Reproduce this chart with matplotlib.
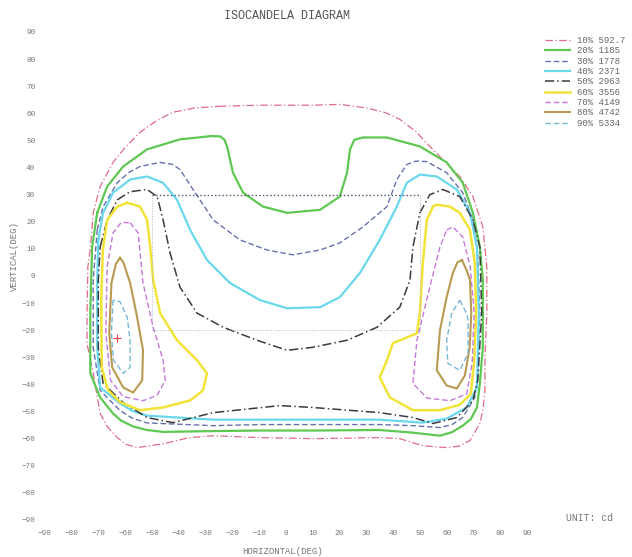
import matplotlib.pyplot as plt
from matplotlib.lines import Line2D

TITLE = "ISOCANDELA DIAGRAM"
MONO = "Liberation Mono"

# isocandela levels (percent of max) and candela values
LEVELS = [10, 20, 30, 40, 50, 60, 70, 80, 90]
CANDELA = ["592.7", "1185", "1778", "2371", "2963", "3556", "4149", "4742", "5334"]
TICKS = list(range(-90, 91, 10))

# contour outlines, (horizontal deg, vertical deg)
C10 = [(-25, 62.6), (-10, 63), (0, 63), (10, 63), (20, 63.3), (30, 62), (37, 60.3), (42.5, 57.8),
       (48.5, 53.3), (53.7, 47.8), (59.5, 42), (64.9, 36.7), (69.8, 29.3), (73.5, 18.1), (75, 3.3),
       (75, -13.7), (74.3, -30), (74.3, -42.2), (73.6, -49), (72.4, -54.4), (68.7, -60.7), (64.5, -62.8),
       (60, -63.3), (51, -62.6), (42.5, -60), (35, -59.6), (10, -60), (-10, -59.6), (-27, -58.9),
       (-36, -59.6), (-46, -61.9), (-55.6, -63.3), (-60, -62), (-63, -59.6), (-66.8, -55.5),
       (-69.4, -50.7), (-72, -36), (-74.3, -25), (-74.3, -13.7), (-74, 3.3), (-73, 10.7), (-72, 23.3),
       (-69.4, 33), (-64.6, 41.9), (-60, 47.5), (-54.5, 53), (-48.5, 57.2), (-42.2, 60.4),
       (-34, 62), (-25, 62.6)]
C20 = [(-70.5, 23.3), (-66.8, 33), (-60.8, 40.4), (-51.9, 46.7), (-39.6, 50.4), (-28, 51.6),
       (-24.6, 51.5), (-23, 50.3), (-22, 47.8), (-19.8, 38.1), (-16, 30.7), (-8.6, 25.6), (0.4, 23.3),
       (12.7, 24.4), (20.1, 29.3), (22.8, 38.1), (23.9, 46.7), (25.5, 50.2), (28.7, 51.1), (37.7, 51.1),
       (50, 47.8), (60, 41.9), (66, 34.4), (69.8, 23.3), (72.4, 10.7), (73.5, -1.5), (73.5, -26.3),
       (72.4, -39.6), (71.3, -48.5), (69, -52.8), (66, -55.2), (62, -57.6), (57.5, -58.9), (47.4, -57.8),
       (35, -56.8), (10, -57), (-9.7, -57), (-27.2, -57.2), (-45.9, -57.5), (-52, -56.8), (-57.1, -55.5),
       (-61.5, -53.4), (-64.6, -50.7), (-69.4, -44.8), (-73.1, -35.9), (-73.1, -13.7), (-72.4, 10.7),
       (-70.5, 23.3)]
C30 = [(-70.5, 17), (-68.3, 25.6), (-63, 34.4), (-58.5, 38.3), (-54.5, 40.4), (-47, 41.9),
       (-42.5, 41.2), (-39.6, 39.3), (-34.7, 31.9), (-27.2, 20.7), (-17.2, 13.3), (-7.1, 9.6), (2.6, 7.8),
       (12.7, 9.6), (20.1, 12.2), (28.7, 18.1), (37.7, 25.6), (41.4, 35.6), (45.1, 41.1), (48.5, 42.4),
       (52.6, 42.2), (60, 38.1), (66, 30.7), (69.8, 20.7), (71.6, 8.5), (72.4, -13.7), (71.6, -35.9),
       (70.5, -44.8), (66, -52.2), (62, -54.8), (57.5, -55.9), (47.4, -55.2), (35, -54.8), (10, -54.8),
       (-9.7, -54.8), (-27.2, -55.2), (-51.9, -54.2), (-57.5, -52.4), (-62, -49.6), (-69.4, -42.2),
       (-72, -26.3), (-72, -1.5), (-70.5, 17)]
C40 = [(-70.1, 13.3), (-68.3, 23.3), (-64.6, 30.7), (-58.2, 35.6), (-51.9, 36.7), (-45.9, 34.4),
       (-40.7, 28.1), (-35.8, 17), (-29.5, 5.9), (-20.9, -2.6), (-9.7, -8.9), (0.4, -11.9),
       (12.7, -11.5), (20.1, -7.8), (27.6, 1.1), (35, 13.3), (41.4, 25.6), (45.1, 34.4), (50, 37.4),
       (56.3, 36.7), (63.8, 31.9), (68.7, 23.3), (71.3, 10.7), (72, -13.7), (71.3, -41.1),
       (67.5, -48.5), (60, -52.6), (51.1, -54.1), (35, -53), (0, -53), (-27.2, -53), (-51.9, -51.5),
       (-57.5, -49.7), (-62, -47), (-69.4, -41.1), (-70.5, -26.3), (-70.5, -1.5), (-70.1, 13.3)]
C50 = [(-69.4, 10.7), (-66.8, 20.7), (-63, 28.1), (-58.2, 31.1), (-51.9, 31.9), (-48.1, 29.3),
       (-45.9, 20.7), (-43.3, 8.5), (-39.6, -4.1), (-33.2, -13.7), (-23.5, -18.9), (-10.8, -23.7),
       (0.4, -27.4), (10, -26.3), (22.8, -23.7), (34, -18.9), (42.5, -11.5), (46.3, -1.5),
       (47.4, 10.7), (50, 23.3), (53.7, 30), (58.6, 31.9), (64.9, 29.3), (69.8, 20.7), (72.4, 10.7),
       (73.1, -13.7), (71.6, -38.5), (69.8, -45.9), (63.8, -52.2), (54.9, -54.4), (47.4, -52.2),
       (35, -50.4), (10, -48.5), (-2.2, -47.8), (-27.2, -50.4), (-42.2, -54.1), (-51.9, -52.2),
       (-60.8, -46.7), (-68.3, -39.6), (-70.1, -26.3), (-70.1, -1.5), (-69.4, 10.7)]
C60_L = [(-59.3, 27), (-54.5, 25.6), (-51.9, 20.7), (-50.7, 10.7), (-49.6, -1.5), (-47, -13.7),
         (-40.7, -23.7), (-33.2, -31.1), (-29.5, -35.9), (-31, -42.2), (-35.8, -45.9), (-45.9, -48.5),
         (-54.5, -49.5), (-62, -46.5), (-66.5, -42), (-68.8, -33.7), (-69, -8.9), (-68.4, 9.6),
         (-66.8, 20.7), (-63, 25.6), (-59.3, 27)]
C60_R = [(54.9, 25.6), (56.3, 26.3), (61.2, 25.6), (64.9, 23.3), (68.7, 17), (70.5, 4.8), (71, -13.7),
         (70.2, -32.2), (69, -43.5), (64.9, -47.5), (57.5, -49.5), (47.4, -49.5), (38.8, -44.8),
         (35, -37.4), (37.7, -31.1), (39.9, -24.8), (48.9, -21.1), (50, -13.7), (51.1, 4.8),
         (52.6, 20.7), (54.9, 25.6)]
C70_L = [(-58.2, 19.6), (-55.2, 15.9), (-53.4, -2.6), (-49.6, -18.9), (-45.9, -31.1), (-45.1, -38.5),
         (-48.1, -44), (-53.4, -46), (-60.8, -44.5), (-65.5, -38.5), (-67.3, -21.1), (-66.8, 3.3),
         (-64.6, 15.9), (-61.5, 19.8), (-58.2, 19.6)]
C70_R = [(60, 17), (62.3, 18.1), (66, 14.4), (68.8, 3.3), (70.3, -13.7), (69.5, -32.2), (67.5, -43.5),
         (61.2, -46), (52.6, -45), (47.4, -39.6), (48.9, -23.7), (53.7, -4.1), (57.5, 10.7), (60, 17)]
C80_L = [(-62, 6.7), (-60.8, 5.2), (-58.2, -2.6), (-55.6, -15.2), (-53.4, -27.4), (-53.7, -38.5),
         (-57.1, -43), (-60.8, -41.1), (-64.9, -33.7), (-66, -21.1), (-65.2, -2.6), (-63.5, 4.5),
         (-62, 6.7)]
C80_R = [(65.7, 5.9), (67.5, 2), (68.7, -1.5), (69.2, -13.7), (68.6, -26.3), (66.8, -36.7),
         (63.8, -41.5), (60, -40.4), (56.3, -34.8), (57.5, -20), (60, -7.8), (62.3, 1.1), (64, 5),
         (65.7, 5.9)]
C90_L = [(-64.6, -8.9), (-65.2, -21.1), (-64.4, -31.1), (-60.8, -35.9), (-58.2, -33.7), (-58.2, -23.7),
         (-59.3, -15.2), (-62, -9.5), (-64.6, -8.9)]
C90_R = [(64.9, -8.9), (67.5, -14), (68, -16.3), (68, -28.5), (64.9, -34.8), (60.4, -32.2), (60, -23.7),
         (61.9, -13.7), (64.9, -8.9)]

CONTOURS = [[C10], [C20], [C30], [C40], [C50], [C60_L, C60_R], [C70_L, C70_R], [C80_L, C80_R],
            [C90_L, C90_R]]

# measuring window and max point
BOX_H = [-50, 50]
BOX_V = [-20, 30]
MAX_PT = (-63, -23)

COLORS = ['#e06c86', '#5ec852', '#6772aa', '#6ad8ec', '#3c3c3c', '#f2e338', '#c47ad8', '#b99a52', '#7ab6d6']
STYLES = [(0, (6, 2, 1, 2)), '-', (0, (4, 2)), '-', (0, (6, 2, 1, 2)), '-', (0, (4, 2)), '-', (0, (4, 2))]
WIDTHS = [0.9, 1.6, 1.0, 1.6, 1.1, 1.8, 1.0, 1.5, 1.0]


fig = plt.figure(figsize=(6.32, 5.57), dpi=100)
ax = fig.add_axes([45/632, 1-520/557, 482/632, 488/557])

handles = []
for lev, val, cs, c, ls, lw in zip(LEVELS, CANDELA, CONTOURS, COLORS, STYLES, WIDTHS):
    for pts in cs:
        xs = [p[0] for p in pts]
        ys = [p[1] for p in pts]
        ax.plot(xs, ys, color=c, ls=ls, lw=lw, solid_joinstyle='round')
    handles.append(Line2D([], [], color=c, ls=ls, lw=lw, label=f"{lev}% {val}"))

# dotted window
ax.plot(BOX_H, [BOX_V[1]]*2, ls=':', lw=1.0, color='#4a4f70')
ax.plot(BOX_H, [BOX_V[0]]*2, ls=':', lw=0.7, color='#b0b4c8')
ax.plot([BOX_H[0]]*2, BOX_V, ls=':', lw=0.7, color='#b0b4c8')
ax.plot([BOX_H[1]]*2, BOX_V, ls=':', lw=0.7, color='#b0b4c8')
ax.plot(*MAX_PT, marker='+', color='#e04040', ms=6, mew=0.8)

ax.set_xlim(-90, 90)
ax.set_ylim(-90, 90)
ax.set_xticks(TICKS)
ax.set_yticks(TICKS)
ax.tick_params(length=0, labelsize=5.5, labelcolor='#777777', pad=7)
for lab in ax.get_xticklabels() + ax.get_yticklabels():
    lab.set_family(MONO)
for s in ax.spines.values():
    s.set_visible(False)

fig.text(287/632, 1-16/557, TITLE, ha='center', va='center', fontsize=8.5, family=MONO, color='#555555')
fig.text(283/632, 1-551/557, "HORIZONTAL(DEG)", ha='center', va='center', fontsize=6.5, family=MONO, color='#777777')
fig.text(14/632, 1-256/557, "VERTICAL(DEG)", ha='center', va='center', rotation=90, fontsize=6.5, family=MONO, color='#777777')
fig.text(590/632, 1-518/557, "UNIT: cd", ha='center', va='center', fontsize=7, family=MONO, color='#777777')

fig.legend(handles=handles, loc='upper left', bbox_to_anchor=(545/632, 1-36/557), frameon=False,
           prop={'family': MONO, 'size': 6.5}, labelcolor='#666666', handlelength=2.8,
           handletextpad=0.7, labelspacing=0.15, borderpad=0, borderaxespad=0)

fig.savefig('out.png', dpi=100)
